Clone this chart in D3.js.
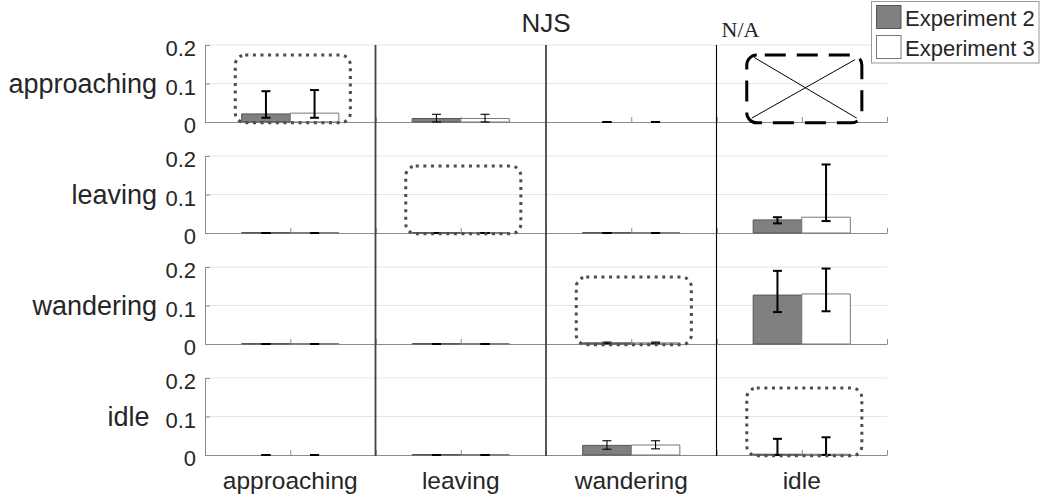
<!DOCTYPE html>
<html>
<head>
<meta charset="utf-8">
<script src="https://cdn.jsdelivr.net/npm/d3@7"></script>
<style>
  html, body { margin: 0; padding: 0; background: #fff; }
  svg { display: block; }
  text { font-family: "Liberation Sans", Arial, sans-serif; fill: #262626; white-space: pre; }
</style>
</head>
<body>
<svg id="chart" width="1044" height="497"></svg>
<script>
// ---------------- data ----------------
const title = "NJS";
const naLabel = "N/A";
const rowLabels = ["approaching", "leaving", "wandering", "idle "];
const colLabels = ["approaching", "leaving", "wandering", "idle"];
const seriesNames = ["Experiment 2", "Experiment 3"];
const yTicks = [0, 0.1, 0.2];
const yTickLabels = ["0", "0.1", "0.2"];

// rows = row label, columns = column label; null = N/A
const exp2Mean = [
  [0.021, 0.009, 0,     null ],
  [0.001, 0.001, 0.001, 0.034],
  [0.001, 0.001, 0.003, 0.127],
  [0,     0.001, 0.025, 0.002]
];
const exp2Lo = [
  [0.011, 0,     0,     null ],
  [0,     0,     0,     0.025],
  [0,     0,     0.001, 0.083],
  [0,     0,     0.015, 0    ]
];
const exp2Hi = [
  [0.080, 0.020, 0,     null ],
  [0,     0,     0,     0.041],
  [0,     0,     0.005, 0.190],
  [0,     0,     0.037, 0.042]
];
const exp3Mean = [
  [0.023, 0.009, 0,     null ],
  [0.001, 0.001, 0.001, 0.041],
  [0.001, 0.001, 0.003, 0.130],
  [0,     0.001, 0.026, 0.002]
];
const exp3Lo = [
  [0.011, 0,     0,     null ],
  [0,     0,     0,     0.031],
  [0,     0,     0.001, 0.085],
  [0,     0,     0.016, 0    ]
];
const exp3Hi = [
  [0.083, 0.020, 0,     null ],
  [0,     0,     0,     0.178],
  [0,     0,     0.005, 0.196],
  [0,     0,     0.037, 0.046]
];
// highlighted cells [row, col]
const dottedCells = [[0, 0], [1, 1], [2, 2], [3, 3]];
const naCells = [[0, 3]];

// ---------------- drawing ----------------
const svg = d3.select("#chart");
const plotLeft = 205, plotRight = 887, plotTop = 45, rowStep = 111, plotH = 77;

const colScale = d3.scaleBand().domain(d3.range(colLabels.length)).range([plotLeft, plotRight]).padding(0);
const rowScale = d3.scaleBand().domain(d3.range(rowLabels.length)).range([plotTop, plotTop + rowStep * rowLabels.length]).padding(0);
const yFor = r => d3.scaleLinear().domain([0, 0.2]).range([rowScale(r) + plotH, rowScale(r)]);
const xFor = c => d3.scaleLinear().domain([0, 2]).range([colScale(c), colScale(c) + colScale.bandwidth()]);

const barW = 0.57;
const series = [
  { name: seriesNames[0], mean: exp2Mean, lo: exp2Lo, hi: exp2Hi, x0: 1 - barW, fill: "#808080", stroke: "#555" },
  { name: seriesNames[1], mean: exp3Mean, lo: exp3Lo, hi: exp3Hi, x0: 1, fill: "#ffffff", stroke: "#777" }
];
const thinErr = new Set(["0-1", "3-2", "2-2"]);

const gGrid = svg.append("g");
const gAxes = svg.append("g");
const gBars = svg.append("g");

rowLabels.forEach((rl, r) => {
  const y = yFor(r);
  gGrid.selectAll(null).data(yTicks.filter(t => t > 0)).join("line")
    .attr("x1", plotLeft).attr("x2", plotRight)
    .attr("y1", d => y(d)).attr("y2", d => y(d))
    .attr("stroke", "#e6e6e6").attr("stroke-width", 1);

  const ya = gAxes.append("g").attr("transform", `translate(${plotLeft},0)`)
    .call(d3.axisLeft(y).tickValues(yTicks).tickFormat((d, i) => yTickLabels[i]).tickSize(-5).tickSizeOuter(0).tickPadding(9));
  ya.select(".domain").attr("stroke", "#8c8c8c");
  ya.selectAll(".tick line").attr("stroke", "#8c8c8c");
  ya.selectAll(".tick text").attr("font-size", 22).attr("fill", "#262626")
    .attr("font-family", "Liberation Sans, Arial, sans-serif").attr("dy", "0.48em");

  gAxes.append("text").attr("x", 157).attr("y", y(0.1) + 9.5)
    .attr("text-anchor", "end").attr("font-size", 27).text(rl);

  colLabels.forEach((cl, c) => {
    const x = xFor(c);
    const xa = gAxes.append("g").attr("transform", `translate(0,${y(0)})`)
      .call(d3.axisBottom(x).tickValues([0, 1, 2]).tickFormat("").tickSize(-5).tickSizeOuter(0));
    xa.select(".domain").attr("stroke", "#8c8c8c");
    xa.selectAll(".tick line").attr("stroke", "#8c8c8c");

    series.forEach(s => {
      const v = s.mean[r][c];
      if (v === null) return;
      if (v > 0) {
        gBars.append("path")
          .attr("d", `M${x(s.x0)},${y(0)}V${y(v)}H${x(s.x0 + barW)}V${y(0)}Z`)
          .attr("fill", s.fill).attr("stroke", s.stroke).attr("stroke-width", 1);
      }
    });
    series.forEach(s => {
      const v = s.mean[r][c];
      if (v === null) return;
      const cx = x(s.x0 + barW / 2);
      const lo = y(s.lo[r][c]), hi = y(s.hi[r][c]);
      const sw = thinErr.has(r + "-" + c) ? 1.1 : 2;
      const g = gBars.append("g").attr("stroke", "#000").attr("stroke-width", sw);
      g.append("line").attr("x1", cx).attr("x2", cx).attr("y1", lo).attr("y2", hi);
      g.append("line").attr("x1", cx - 4.5).attr("x2", cx + 4.5).attr("y1", lo).attr("y2", lo);
      g.append("line").attr("x1", cx - 4.5).attr("x2", cx + 4.5).attr("y1", hi).attr("y2", hi);
    });
  });
});

svg.append("g").selectAll("text").data(colLabels).join("text")
  .attr("x", (d, i) => colScale(i) + colScale.bandwidth() / 2)
  .attr("y", 489).attr("text-anchor", "middle").attr("font-size", 24.5).text(d => d);

[1, 2, 3].forEach(c => {
  svg.append("line").attr("x1", colScale(c)).attr("x2", colScale(c))
    .attr("y1", plotTop).attr("y2", 456)
    .attr("stroke", c < 3 ? "#444" : "#000").attr("stroke-width", c < 3 ? 1.8 : 1.1);
});

const boxOf = (r, c) => {
  const x = xFor(c), y = yFor(r);
  const x0 = x(1 - 0.645), x1 = x(1 + 0.705), y0 = y(0.174), y1 = y(-0.002);
  return { x: x0, y: y0, w: x1 - x0, h: y1 - y0 };
};
dottedCells.forEach(([r, c]) => {
  const b = boxOf(r, c);
  svg.append("rect").attr("x", b.x).attr("y", b.y).attr("width", b.w).attr("height", b.h)
    .attr("rx", 10).attr("ry", 10).attr("fill", "none")
    .attr("stroke", "#4d4d4d").attr("stroke-width", 3).attr("stroke-dasharray", "3 4.6");
});
naCells.forEach(([r, c]) => {
  const b = boxOf(r, c);
  const x = xFor(c), y = yFor(r);
  svg.append("rect").attr("x", b.x).attr("y", b.y).attr("width", b.w).attr("height", b.h)
    .attr("rx", 10).attr("ry", 10).attr("fill", "none")
    .attr("stroke", "#000").attr("stroke-width", 3).attr("stroke-dasharray", "21 11").attr("stroke-dashoffset", -8);
  svg.append("line").attr("x1", x(1 - 0.56)).attr("y1", y(0.168)).attr("x2", x(1 + 0.645)).attr("y2", y(0.01))
    .attr("stroke", "#000").attr("stroke-width", 1);
  svg.append("line").attr("x1", x(1 + 0.625)).attr("y1", y(0.162)).attr("x2", x(1 - 0.587)).attr("y2", y(0.01))
    .attr("stroke", "#000").attr("stroke-width", 1);
  svg.append("text").attr("x", colScale(c) + 5).attr("y", 37)
    .style("font-family", "'Liberation Serif', 'Times New Roman', serif")
    .attr("font-size", 22).attr("fill", "#1a1a1a").text(naLabel);
});

svg.append("text").attr("x", 546).attr("y", 32).attr("text-anchor", "middle")
  .attr("font-size", 26).attr("fill", "#000").text(title);

const lg = svg.append("g");
lg.append("rect").attr("x", 871.5).attr("y", 1.5).attr("width", 167.5).attr("height", 61.5)
  .attr("fill", "#fff").attr("stroke", "#999").attr("stroke-width", 1);
series.forEach((s, i) => {
  lg.append("rect").attr("x", 876.5).attr("y", 5.5 + i * 30).attr("width", 24.5).attr("height", 23)
    .attr("fill", s.fill).attr("stroke", s.stroke).attr("stroke-width", 1);
  lg.append("text").attr("x", 905).attr("y", 26 + i * 30).attr("font-size", 22).attr("fill", "#1a1a1a").text(s.name);
});
</script>
</body>
</html>
